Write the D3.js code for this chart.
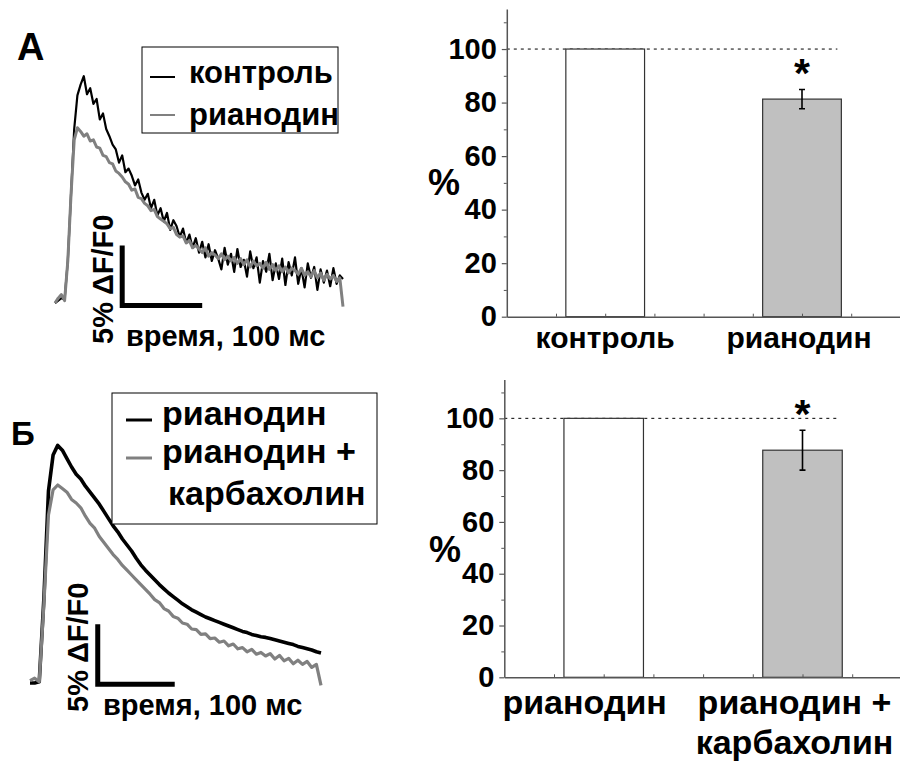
<!DOCTYPE html>
<html>
<head>
<meta charset="utf-8">
<script src="https://cdn.jsdelivr.net/npm/d3@7/dist/d3.min.js"></script>
<style>
  html, body { margin: 0; padding: 0; background: #fff; }
  svg { display: block; font-family: "Liberation Sans", Arial, sans-serif; font-weight: bold; }
</style>
</head>
<body>
<svg id="fig" width="900" height="762"></svg>
<script>
// ---------- data ----------
// panel A traces, one sample every 4 ms, ΔF/F0 in %
const stepA = 4;
const controlA = [
  0.0, 0.2, 0.4, 0.3,
  3.5, 9.0, 14.5, 17.3,
  18.2, 18.9, 17.4, 17.9,
  16.6, 17.0, 15.3, 15.8,
  14.5, 13.9, 13.2, 12.8,
  11.7, 12.3, 10.9, 11.2,
  10.6, 9.8, 10.3, 9.2,
  8.6, 9.1, 7.9, 8.6,
  7.3, 7.9, 6.8, 7.5,
  6.1, 6.9, 6.4, 5.5,
  6.2, 5.0, 5.7, 4.6,
  5.4, 4.2, 5.1, 3.8,
  4.9, 3.5, 4.4, 3.7,
  2.8, 4.6, 3.2, 4.1,
  2.6, 4.5, 3.0, 3.6,
  2.2, 4.3, 2.9, 3.8,
  1.7, 3.5, 2.6, 4.1,
  1.9, 3.3, 2.0, 3.7,
  1.5, 3.4, 2.3, 3.8,
  1.6, 2.9, 1.3, 3.3,
  2.1, 3.0, 1.1, 2.8,
  1.7, 2.7, 1.4, 2.9,
  1.6, 2.3, 2.0
];
const ryanodineA = [
  0.0, 0.4, 0.7, 0.2,
  3.5, 9.0, 13.6, 14.6,
  14.3, 13.9, 14.1, 13.5,
  13.6, 13.0, 12.9, 12.3,
  12.2, 11.7, 11.6, 11.0,
  10.8, 10.5, 10.1, 9.9,
  9.4, 9.5, 8.8, 8.7,
  8.3, 8.1, 7.7, 7.8,
  7.2, 7.0, 6.8, 6.6,
  6.2, 6.3, 5.7, 5.5,
  5.6, 5.0, 5.2, 4.6,
  4.8, 4.5, 4.2, 4.6,
  3.9, 4.2, 4.0, 3.7,
  4.1, 3.6, 3.9, 3.5,
  3.8, 3.3, 3.7, 3.2,
  3.6, 3.0, 3.5, 3.1,
  3.3, 2.9, 3.4, 2.8,
  3.2, 2.7, 3.1, 2.6,
  3.0, 2.5, 2.9, 2.7,
  2.4, 2.9, 2.3, 2.6,
  2.2, 2.7, 2.1, 2.5,
  1.9, 2.4, 2.0, 2.3,
  1.8, 2.1, -0.3
];

// panel Б traces, one sample every 6 ms
const stepB = 6;
const ryanodineB = [
  0, 0, 0.1, 7.0, 16.0, 19.0, 19.8, 19.4, 18.7, 18.0,
  17.4, 17.0, 16.4, 15.9, 15.4, 14.9, 14.3, 13.7, 13.1, 12.6,
  12.0, 11.5, 11.0, 10.4, 9.85, 9.4, 9.0, 8.6, 8.2, 7.85,
  7.5, 7.2, 6.9, 6.6, 6.35, 6.1, 5.9, 5.7, 5.5, 5.35,
  5.2, 5.05, 4.9, 4.75, 4.6, 4.45, 4.3, 4.2, 4.05, 3.95,
  3.85, 3.8, 3.7, 3.6, 3.5, 3.4, 3.3, 3.2, 3.05, 2.95,
  2.85, 2.75, 2.6, 2.5
];
const carbacholB = [
  0.2, 0.4, 0.1, 6.5, 14.0, 16.1, 16.5, 16.2, 15.9, 15.3,
  15.0, 14.6, 13.9, 13.3, 12.9, 12.2, 11.7, 11.2, 10.7, 10.3,
  9.8, 9.4, 9.0, 8.6, 8.2, 7.8, 7.4, 6.95, 6.7, 6.2,
  6.0, 5.55, 5.4, 5.0, 4.9, 4.5, 4.45, 4.05, 4.1, 3.7,
  3.75, 3.4, 3.5, 3.1, 3.25, 2.85, 2.95, 2.6, 2.8, 2.4,
  2.55, 2.25, 2.45, 2.0, 2.3, 1.85, 2.05, 1.6, 1.9, 1.55,
  1.8, 1.3, 1.55, -0.2
];

// bar charts, % of reference
const barCatsA = ['контроль', 'рианодин'];
const barValsA = [100, 81.3];
const barErrA = [0, 3.6];
const barCatsB = ['рианодин', 'рианодин +|карбахолин'];
const barValsB = [100, 87.7];
const barErrB = [0, 7.7];
const yTicks = [0, 20, 40, 60, 80, 100];
const yMinorTicks = [10, 30, 50, 70, 90, 110];
const barFills = ['#ffffff', '#c0c0c0'];

const svg = d3.select('#fig');

// ============== TRACE PANELS ==============
function drawTraces(p) {
  const x = d3.scaleLinear().domain([0, p.tMax]).range(p.xRange);
  const y = d3.scaleLinear().domain([0, 20]).range(p.yRange);
  const g = svg.append('g');

  p.series.forEach(s => {
    const line = d3.line()
      .x((d, i) => x(i * p.step))
      .y(d => y(d));
    g.append('path')
      .datum(s.values)
      .attr('fill', 'none')
      .attr('stroke', s.color)
      .attr('stroke-width', s.width)
      .attr('stroke-linejoin', 'round')
      .attr('d', line);
  });

  // 5% / 100 ms scale bar
  const sb = p.scaleBar;
  g.append('path')
    .attr('d', `M${x(sb.t)},${y(sb.v + 5)}V${y(sb.v)}H${x(sb.t + 100)}`)
    .attr('fill', 'none')
    .attr('stroke', '#000')
    .attr('stroke-width', 5)
    .attr('stroke-linejoin', 'miter');

  g.append('text')
    .attr('transform', `translate(${p.vLabel[0]},${p.vLabel[1]}) rotate(-90)`)
    .attr('font-size', 29)
    .text('5% ΔF/F0');
  g.append('text')
    .attr('x', p.hLabel[0])
    .attr('y', p.hLabel[1])
    .attr('font-size', 29)
    .text('время, 100 мс');

  // panel letter
  g.append('text')
    .attr('x', p.letterPos[0])
    .attr('y', p.letterPos[1])
    .attr('font-size', p.letterSize)
    .text(p.letter);

  // legend
  const L = p.legend;
  g.append('rect')
    .attr('x', L.box[0]).attr('y', L.box[1])
    .attr('width', L.box[2]).attr('height', L.box[3])
    .attr('fill', '#fff')
    .attr('stroke', '#000')
    .attr('stroke-width', 1);
  L.items.forEach(it => {
    g.append('line')
      .attr('x1', L.lineX[0]).attr('x2', L.lineX[1])
      .attr('y1', it.ly).attr('y2', it.ly)
      .attr('stroke', it.color)
      .attr('stroke-width', L.lineW);
    it.lines.forEach((t, k) => {
      g.append('text')
        .attr('x', L.textX + (k > 0 ? L.indent : 0))
        .attr('y', it.ty + k * L.lineGap)
        .attr('font-size', L.fontSize)
        .text(t);
    });
  });
}

// ============== BAR PANELS ==============
function drawBars(p) {
  const x = d3.scaleLinear().domain([0, 8]).range([p.x0, p.x0 + 8 * p.unit]);
  const y = d3.scaleLinear().domain([0, 115]).range([p.y0, p.yTop]);
  const g = svg.append('g');
  const half = 0.8;

  // dotted 100% reference line
  g.append('line')
    .attr('x1', x(0)).attr('x2', x(p.centers[1] + half) - 4)
    .attr('y1', y(100)).attr('y2', y(100))
    .attr('stroke', '#000')
    .attr('stroke-width', 1)
    .attr('stroke-dasharray', '3,4');

  g.selectAll('.bar')
    .data(p.values)
    .enter()
    .append('rect')
    .attr('x', (d, i) => x(p.centers[i] - half))
    .attr('y', d => y(d))
    .attr('width', x(half * 2) - x(0))
    .attr('height', d => y(0) - y(d))
    .attr('fill', (d, i) => barFills[i])
    .attr('stroke', '#333')
    .attr('stroke-width', 1.2);

  // error bars
  p.values.forEach((v, i) => {
    const e = p.errors[i];
    if (!e) return;
    const cx = x(p.centers[i]);
    g.append('path')
      .attr('d', `M${cx},${y(v - e)}V${y(v + e)}M${cx - 3},${y(v - e)}H${cx + 3}M${cx - 3},${y(v + e)}H${cx + 3}`)
      .attr('stroke', '#000')
      .attr('stroke-width', 1.6)
      .attr('fill', 'none');
    g.append('text')
      .attr('x', cx)
      .attr('y', y(v + e) - 2)
      .attr('text-anchor', 'middle')
      .attr('font-size', 41)
      .text('*');
  });

  // y axis
  const yAxis = g.append('g')
    .attr('transform', `translate(${p.x0},0)`)
    .call(d3.axisLeft(y).tickValues(yTicks).tickSize(5).tickSizeOuter(0).tickPadding(5));
  yAxis.select('.domain').attr('stroke', '#555').attr('stroke-width', 1.5);
  yAxis.selectAll('.tick line').attr('stroke', '#555').attr('stroke-width', 1.2);
  yAxis.selectAll('.tick text')
    .attr('font-family', '"Liberation Sans", Arial, sans-serif')
    .attr('font-weight', 'bold')
    .attr('font-size', 29)
    .attr('fill', '#000');
  g.append('g')
    .attr('transform', `translate(${p.x0},0)`)
    .call(d3.axisLeft(y).tickValues(yMinorTicks).tickSize(3).tickSizeOuter(0).tickFormat(''))
    .call(a => a.select('.domain').remove())
    .call(a => a.selectAll('.tick line').attr('stroke', '#555'));

  // x axis
  const xAxis = g.append('g')
    .attr('transform', `translate(0,${p.y0})`)
    .call(d3.axisBottom(x).tickValues([1, 2, 3, 4, 5, 6, 7]).tickSize(-3).tickSizeOuter(0).tickFormat(''));
  xAxis.select('.domain').attr('stroke', '#555').attr('stroke-width', 1.5);
  xAxis.selectAll('.tick line').attr('stroke', '#555');

  // y title
  g.append('text')
    .attr('x', p.pctPos[0])
    .attr('y', p.pctPos[1])
    .attr('text-anchor', 'middle')
    .attr('font-size', 36)
    .text('%');

  // category labels
  p.cats.forEach((c, i) => {
    c.split('|').forEach((t, k) => {
      g.append('text')
        .attr('x', x(p.centers[i]) + p.labelShift[i])
        .attr('y', p.labelY + k * 40)
        .attr('text-anchor', 'middle')
        .attr('font-size', p.labelSize)
        .text(t);
    });
  });
}

drawTraces({
  step: stepA, tMax: 360, xRange: [55, 343], yRange: [303, 63],
  series: [
    { values: controlA, color: '#000', width: 2.2 },
    { values: ryanodineA, color: '#808080', width: 3 }
  ],
  scaleBar: { t: 84, v: -0.2 },
  vLabel: [113, 344], hLabel: [126, 346],
  letter: 'А', letterPos: [17, 60], letterSize: 38,
  legend: {
    box: [142, 47, 196, 86], lineX: [150, 175], lineW: 2, textX: 189, indent: 0,
    lineGap: 40, fontSize: 31,
    items: [
      { color: '#000', ly: 77, ty: 83, lines: ['контроль'] },
      { color: '#808080', ly: 115, ty: 125, lines: ['рианодин'] }
    ]
  }
});

drawTraces({
  step: stepB, tMax: 378, xRange: [30, 321], yRange: [683, 443],
  series: [
    { values: ryanodineB, color: '#000', width: 3.6 },
    { values: carbacholB, color: '#808080', width: 3.2 }
  ],
  scaleBar: { t: 88, v: -0.1 },
  vLabel: [88, 712], hLabel: [103, 715],
  letter: 'Б', letterPos: [11, 445], letterSize: 33,
  legend: {
    box: [112, 393, 265, 131], lineX: [126, 152], lineW: 3, textX: 162, indent: 6,
    lineGap: 42, fontSize: 34,
    items: [
      { color: '#000', ly: 420, ty: 425, lines: ['рианодин'] },
      { color: '#808080', ly: 458, ty: 463, lines: ['рианодин +', 'карбахолин'] }
    ]
  }
});

drawBars({
  x0: 506.8, unit: 49.2, y0: 316.7, yTop: 8.9,
  centers: [2, 6], values: barValsA, errors: barErrA, cats: barCatsA,
  labelShift: [0, -3], labelY: 348, labelSize: 30,
  pctPos: [444, 195]
});

drawBars({
  x0: 504.3, unit: 49.7, y0: 677.3, yTop: 379.5,
  centers: [2, 6], values: barValsB, errors: barErrB, cats: barCatsB,
  labelShift: [-19, -8], labelY: 714, labelSize: 34,
  pctPos: [445, 562]
});
</script>
</body>
</html>
